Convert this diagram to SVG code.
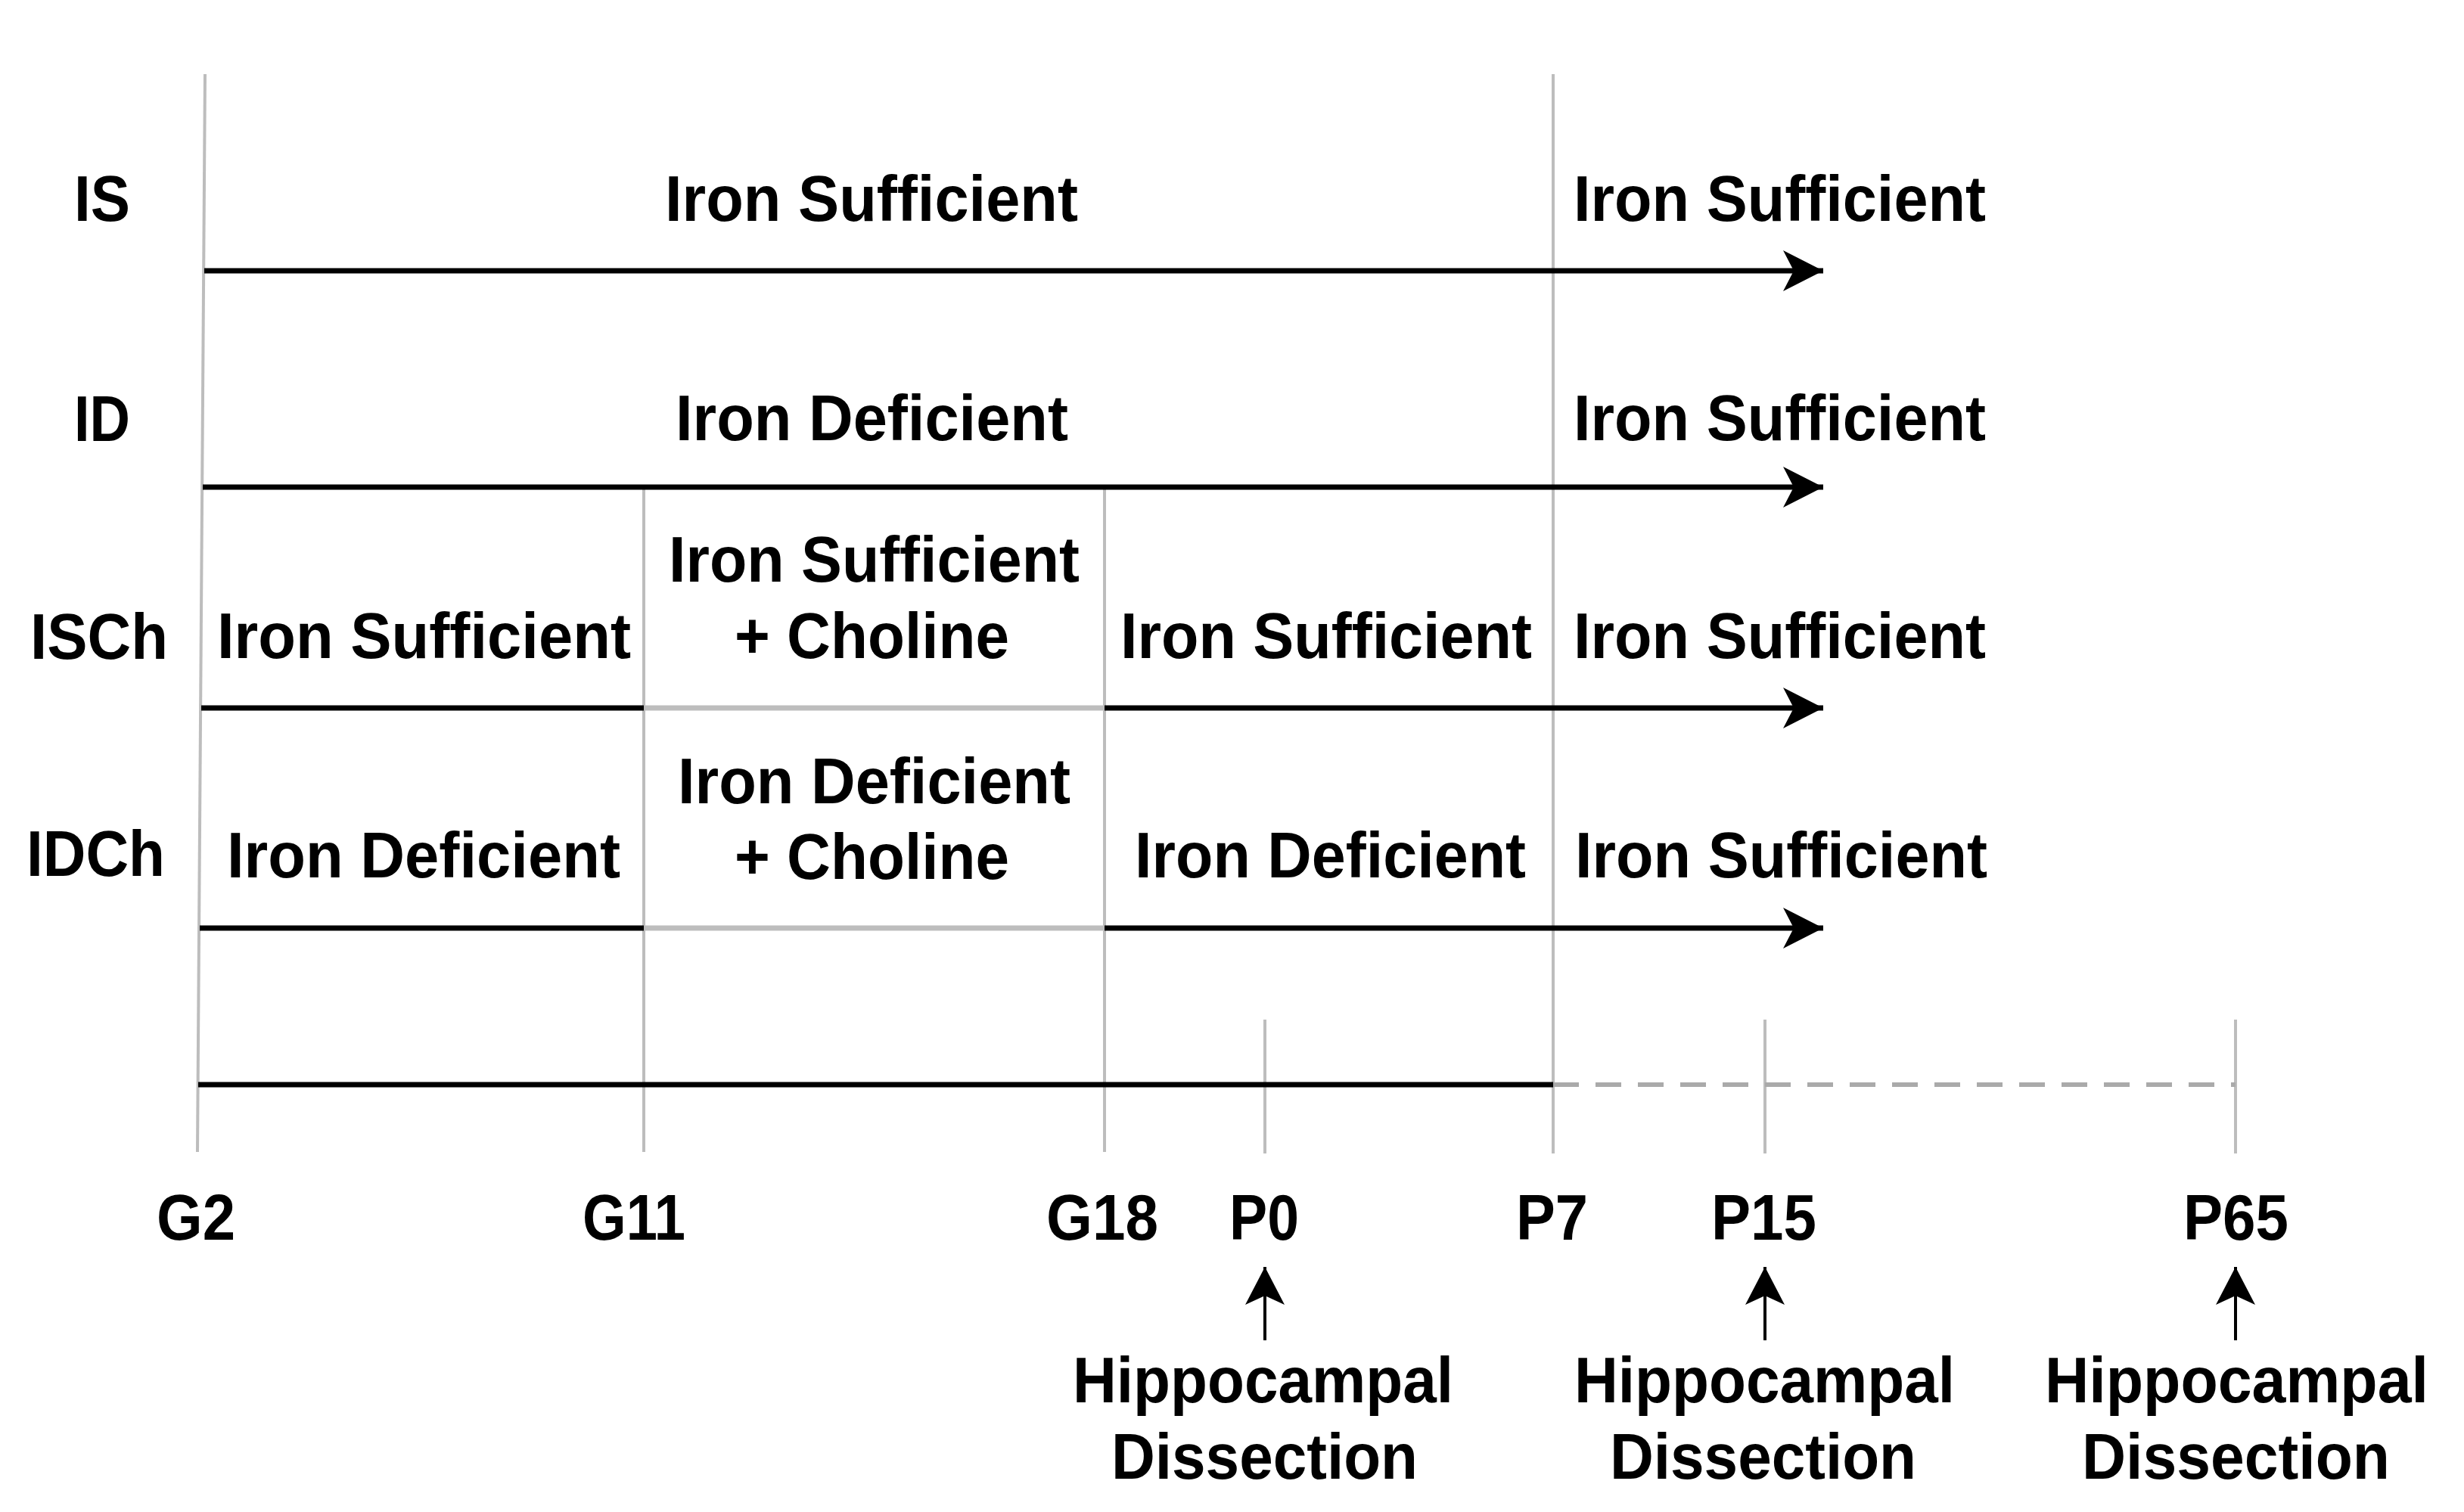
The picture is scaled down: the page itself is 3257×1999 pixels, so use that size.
<svg xmlns="http://www.w3.org/2000/svg" width="3257" height="1999" viewBox="0 0 3257 1999">
<style>
text{font-family:"Liberation Sans",Arial,sans-serif;font-weight:bold;font-size:86px;fill:#000}
.grid{stroke:#bdbdbd;stroke-width:4;fill:none}
.blk{stroke:#000;stroke-width:7;fill:none}
.gry{stroke:#bdbdbd;stroke-width:7;fill:none}
.dash{stroke:#aaaaaa;stroke-width:6;stroke-dasharray:34 22;fill:none}
.up{stroke:#000;stroke-width:4;fill:none}
</style>
<defs>
<marker id="ah" markerUnits="userSpaceOnUse" markerWidth="60" markerHeight="60" refX="55" refY="30" orient="auto">
<path d="M2,3 L55,30 L2,57 L16,30 Z" fill="#000"/>
</marker>
<marker id="uh" markerUnits="userSpaceOnUse" markerWidth="60" markerHeight="60" refX="52" refY="30" orient="auto">
<path d="M2,4 L52,30 L2,56 L14,30 Z" fill="#000"/>
</marker>
</defs>
<rect width="3257" height="1999" fill="#fff"/>
<g id="connectors">
<line class="grid" x1="271" y1="98" x2="261" y2="1523"/>
<line class="grid" x1="2053" y1="98" x2="2053" y2="1525"/>
<line class="grid" x1="851" y1="647" x2="851" y2="1523"/>
<line class="grid" x1="1460" y1="647" x2="1460" y2="1523"/>
<line class="grid" x1="1672" y1="1348" x2="1672" y2="1525"/>
<line class="grid" x1="2333" y1="1348" x2="2333" y2="1525"/>
<line class="grid" x1="2955" y1="1348" x2="2955" y2="1525"/>
<line class="blk" x1="270" y1="358" x2="2410" y2="358" marker-end="url(#ah)"/>
<line class="blk" x1="268" y1="644" x2="2410" y2="644" marker-end="url(#ah)"/>
<line class="blk" x1="266" y1="936" x2="851" y2="936"/>
<line class="gry" x1="851" y1="936" x2="1460" y2="936"/>
<line class="blk" x1="1460" y1="936" x2="2410" y2="936" marker-end="url(#ah)"/>
<line class="blk" x1="264" y1="1227" x2="851" y2="1227"/>
<line class="gry" x1="851" y1="1227" x2="1460" y2="1227"/>
<line class="blk" x1="1460" y1="1227" x2="2410" y2="1227" marker-end="url(#ah)"/>
<line class="blk" x1="262" y1="1434" x2="2053" y2="1434"/>
<line class="dash" x1="2053" y1="1434" x2="2955" y2="1434"/>
<line class="up" x1="1672" y1="1772" x2="1672" y2="1675" marker-end="url(#uh)"/>
<line class="up" x1="2333" y1="1772" x2="2333" y2="1675" marker-end="url(#uh)"/>
<line class="up" x1="2955" y1="1772" x2="2955" y2="1675" marker-end="url(#uh)"/>
</g>
<g id="row-labels">
<text x="98" y="292" textLength="74" lengthAdjust="spacingAndGlyphs">IS</text>
<text x="98" y="583" textLength="74" lengthAdjust="spacingAndGlyphs">ID</text>
<text x="40" y="871" textLength="182" lengthAdjust="spacingAndGlyphs">ISCh</text>
<text x="35" y="1158" textLength="183" lengthAdjust="spacingAndGlyphs">IDCh</text>
</g>
<g id="row-IS">
<text x="879" y="292" textLength="546" lengthAdjust="spacingAndGlyphs">Iron Sufficient</text>
<text x="2080" y="292" textLength="545" lengthAdjust="spacingAndGlyphs">Iron Sufficient</text>
</g>
<g id="row-ID">
<text x="893" y="582" textLength="519" lengthAdjust="spacingAndGlyphs">Iron Deficient</text>
<text x="2080" y="582" textLength="545" lengthAdjust="spacingAndGlyphs">Iron Sufficient</text>
</g>
<g id="row-ISCh">
<text x="287" y="870" textLength="547" lengthAdjust="spacingAndGlyphs">Iron Sufficient</text>
<text x="884" y="769" textLength="543" lengthAdjust="spacingAndGlyphs">Iron Sufficient</text>
<text x="971" y="870" textLength="363" lengthAdjust="spacingAndGlyphs">+ Choline</text>
<text x="1481" y="870" textLength="544" lengthAdjust="spacingAndGlyphs">Iron Sufficient</text>
<text x="2080" y="870" textLength="545" lengthAdjust="spacingAndGlyphs">Iron Sufficient</text>
</g>
<g id="row-IDCh">
<text x="300" y="1160" textLength="520" lengthAdjust="spacingAndGlyphs">Iron Deficient</text>
<text x="896" y="1062" textLength="519" lengthAdjust="spacingAndGlyphs">Iron Deficient</text>
<text x="971" y="1162" textLength="363" lengthAdjust="spacingAndGlyphs">+ Choline</text>
<text x="1500" y="1160" textLength="517" lengthAdjust="spacingAndGlyphs">Iron Deficient</text>
<text x="2082" y="1160" textLength="545" lengthAdjust="spacingAndGlyphs">Iron Sufficient</text>
</g>
<g id="timeline-labels">
<text x="207" y="1639" textLength="104" lengthAdjust="spacingAndGlyphs">G2</text>
<text x="770" y="1639" textLength="136" lengthAdjust="spacingAndGlyphs">G11</text>
<text x="1383" y="1639" textLength="148" lengthAdjust="spacingAndGlyphs">G18</text>
<text x="1625" y="1639" textLength="92" lengthAdjust="spacingAndGlyphs">P0</text>
<text x="2004" y="1639" textLength="95" lengthAdjust="spacingAndGlyphs">P7</text>
<text x="2262" y="1639" textLength="139" lengthAdjust="spacingAndGlyphs">P15</text>
<text x="2886" y="1639" textLength="139" lengthAdjust="spacingAndGlyphs">P65</text>
</g>
<g id="dissection-P0">
<text x="1418" y="1854" textLength="503" lengthAdjust="spacingAndGlyphs">Hippocampal</text>
<text x="1469" y="1955" textLength="405" lengthAdjust="spacingAndGlyphs">Dissection</text>
</g>
<g id="dissection-P15">
<text x="2081" y="1854" textLength="503" lengthAdjust="spacingAndGlyphs">Hippocampal</text>
<text x="2128" y="1955" textLength="405" lengthAdjust="spacingAndGlyphs">Dissection</text>
</g>
<g id="dissection-P65">
<text x="2703" y="1854" textLength="507" lengthAdjust="spacingAndGlyphs">Hippocampal</text>
<text x="2752" y="1955" textLength="407" lengthAdjust="spacingAndGlyphs">Dissection</text>
</g>
</svg>
